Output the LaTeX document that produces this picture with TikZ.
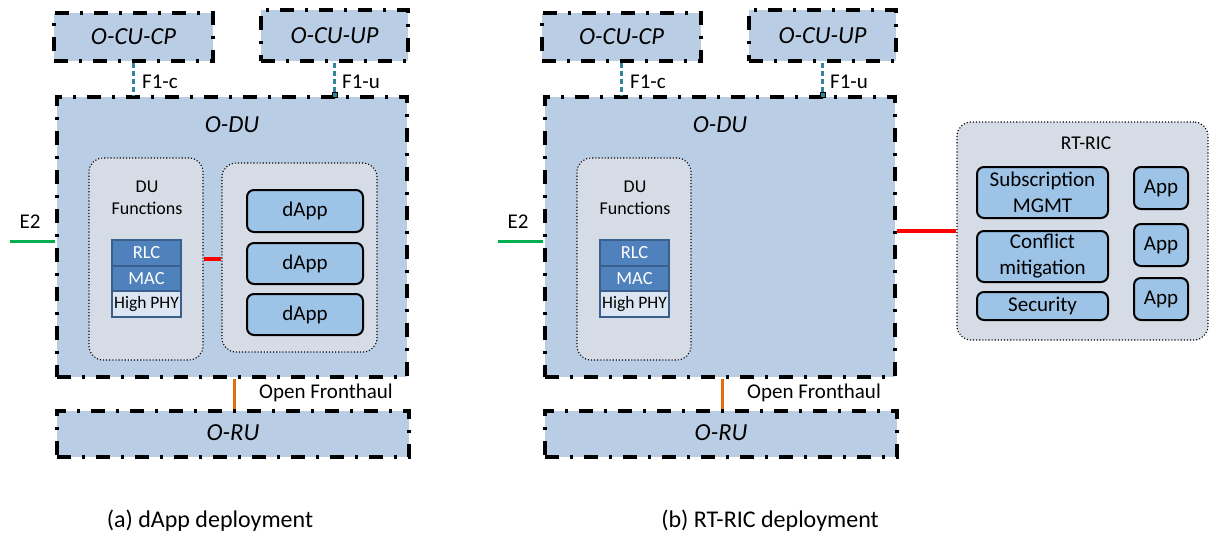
\documentclass[tikz,border=0pt]{standalone}
\usepackage{fontspec}
\setmainfont{Carlito}
\definecolor{duFill}{HTML}{B9CDE5}
\definecolor{boxGrey}{HTML}{D6DCE5}
\definecolor{appFill}{HTML}{9DC3E6}
\definecolor{layerBlue}{HTML}{4F81BD}
\definecolor{layerEdge}{HTML}{3A5F8C}
\definecolor{phyFill}{HTML}{DCE6F2}
\definecolor{fOneTeal}{HTML}{31849B}
\definecolor{eTwoGreen}{HTML}{00B050}
\definecolor{fhOrange}{HTML}{E46C0A}
\begin{document}
\begin{tikzpicture}[x=1pt,y=-1pt,
  unit/.style={draw=black, fill=duFill, line width=3.5pt,
    dash pattern=on 14pt off 11pt on 3pt off 11pt, inner sep=0pt},
  group/.style={draw=black, fill=boxGrey, dotted, line width=1.1pt,
    rounded corners=14pt, inner sep=0pt},
  app/.style={draw=black, fill=appFill, line width=2pt, rounded corners=7pt,
    inner sep=0pt, align=center, font=\fontsize{21}{26}\selectfont},
  layer/.style={draw=layerEdge, fill=layerBlue, text=white, line width=1.5pt,
    inner sep=0pt, font=\fontsize{18.5}{20}\selectfont},
  phylayer/.style={layer, fill=phyFill, text=black, font=\fontsize{17.5}{20}\selectfont},
  lbl/.style={inner sep=0pt, font=\fontsize{21}{24}\selectfont},
  smalllbl/.style={inner sep=0pt, align=center, font=\fontsize{18}{22}\selectfont},
  unitlbl/.style={inner sep=0pt, font=\fontsize{24.5}{28}\selectfont\itshape},
  caption/.style={inner sep=0pt, font=\fontsize{24}{28}\selectfont},
  fone/.style={draw=fOneTeal, line width=3pt, dash pattern=on 5pt off 3pt},
  etwo/.style={draw=eTwoGreen, line width=3pt},
  ctrl/.style={draw=red, line width=4.5pt},
  fronthaul/.style={draw=fhOrange, line width=3pt},
  portsq/.style={draw=black, fill=fOneTeal, line width=0.8pt, inner sep=0pt,
    minimum size=5pt},
]
\useasboundingbox (0,0) rectangle (1212,542);

% ---------------- (a) dApp deployment ----------------
\node[unit, minimum width=159pt, minimum height=48pt] (cucpA) at (133.5,37) {};
\node[unitlbl] (cucpAt) at (133.5,37) {O-CU-CP};
\node[unit, minimum width=147pt, minimum height=51pt] (cuupA) at (334.5,35.5) {};
\node[unitlbl] (cuupAt) at (334.5,36) {O-CU-UP};
\node[unit, minimum width=350pt, minimum height=280pt] (oduA) at (232,237) {};
\node[unitlbl] (oduAt) at (232,125) {O-DU};
\node[unit, minimum width=352pt, minimum height=46pt] (oruA) at (233,434) {};
\node[unitlbl] (oruAt) at (233,433) {O-RU};

\node[group, minimum width=114pt, minimum height=202pt] (dufA) at (146,259) {};
\node[smalllbl] (dufAt) at (147,198) {DU\\Functions};
\node[layer, minimum width=69pt, minimum height=26pt] (rlcA) at (146.5,253) {RLC};
\node[layer, minimum width=69pt, minimum height=25pt] (macA) at (146.5,278.5) {MAC};
\node[phylayer, minimum width=69pt, minimum height=26pt] (phyA) at (146.5,304) {High PHY};

\node[group, minimum width=155pt, minimum height=189pt] (dappgrp) at (299.5,257.5) {};
\node[app, minimum width=116pt, minimum height=42pt] (dappA) at (305,211) {dApp};
\node[app, minimum width=116pt, minimum height=41pt] (dappB) at (305,263.5) {dApp};
\node[app, minimum width=116pt, minimum height=41pt] (dappC) at (305,314.5) {dApp};

\draw[fone] (cucpA.south) -- (cucpA.south |- oduA.north);
\node[lbl] (f1cA) at (160,82) {F1-c};
\draw[fone] (cuupA.south) -- (cuupA.south |- oduA.north);
\node[portsq] (portA) at (cuupA.south |- oduA.north) {};
\node[lbl] (f1uA) at (361,82) {F1-u};

\coordinate (e2A) at (10,241);
\draw[etwo] (e2A) -- (e2A -| oduA.west);
\node[lbl] (e2At) at (30,222) {E2};

\draw[ctrl] (dufA.east) -- (dufA.east -| dappgrp.west);

\draw[fronthaul] (oduA.south) ++(2,0) coordinate (fhA) -- (fhA |- oruA.north);
\node[lbl] (fhAt) at (326,393) {Open Fronthaul};

\node[caption] (capA) at (210,521) {(a) dApp deployment};

% ---------------- (b) RT-RIC deployment ----------------
\node[unit, minimum width=159pt, minimum height=48pt] (cucpB) at (621.5,37) {};
\node[unitlbl] (cucpBt) at (621.5,37) {O-CU-CP};
\node[unit, minimum width=147pt, minimum height=51pt] (cuupB) at (822.5,35.5) {};
\node[unitlbl] (cuupBt) at (822.5,36) {O-CU-UP};
\node[unit, minimum width=350pt, minimum height=280pt] (oduB) at (720,237) {};
\node[unitlbl] (oduBt) at (720,125) {O-DU};
\node[unit, minimum width=352pt, minimum height=46pt] (oruB) at (721,434) {};
\node[unitlbl] (oruBt) at (721,433) {O-RU};

\node[group, minimum width=114pt, minimum height=202pt] (dufB) at (634,259) {};
\node[smalllbl] (dufBt) at (635,198) {DU\\Functions};
\node[layer, minimum width=69pt, minimum height=26pt] (rlcB) at (634.5,253) {RLC};
\node[layer, minimum width=69pt, minimum height=25pt] (macB) at (634.5,278.5) {MAC};
\node[phylayer, minimum width=69pt, minimum height=26pt] (phyB) at (634.5,304) {High PHY};

\draw[fone] (cucpB.south) -- (cucpB.south |- oduB.north);
\node[lbl] (f1cB) at (648,82) {F1-c};
\draw[fone] (cuupB.south) -- (cuupB.south |- oduB.north);
\node[portsq] (portB) at (cuupB.south |- oduB.north) {};
\node[lbl] (f1uB) at (849,82) {F1-u};

\coordinate (e2B) at (498,241);
\draw[etwo] (e2B) -- (e2B -| oduB.west);
\node[lbl] (e2Bt) at (518,222) {E2};

\draw[fronthaul] (oduB.south) ++(2,0) coordinate (fhB) -- (fhB |- oruB.north);
\node[lbl] (fhBt) at (814,393) {Open Fronthaul};

% near-real-time controller
\node[group, minimum width=251pt, minimum height=218pt] (ric) at (1082.5,231) {};
\node[lbl, font=\fontsize{19.5}{22}\selectfont] (rict) at (1086,143) {RT-RIC};
\node[app, minimum width=131pt, minimum height=51pt] (subm) at (1042.5,192.5) {Subscription\\MGMT};
\node[app, minimum width=131pt, minimum height=51pt] (conf) at (1042.5,256.5) {Conflict\\mitigation};
\node[app, minimum width=131pt, minimum height=28pt] (secu) at (1042.5,306) {Security};
\node[app, minimum width=54pt, minimum height=42pt] (appA) at (1161,188) {App};
\node[app, minimum width=54pt, minimum height=42pt] (appB) at (1161,245) {App};
\node[app, minimum width=54pt, minimum height=42pt] (appC) at (1161,299) {App};

\draw[ctrl] (ric.west) -- (ric.west -| oduB.east);

\node[caption] (capB) at (770,521) {(b) RT-RIC deployment};
\end{tikzpicture}
\end{document}
